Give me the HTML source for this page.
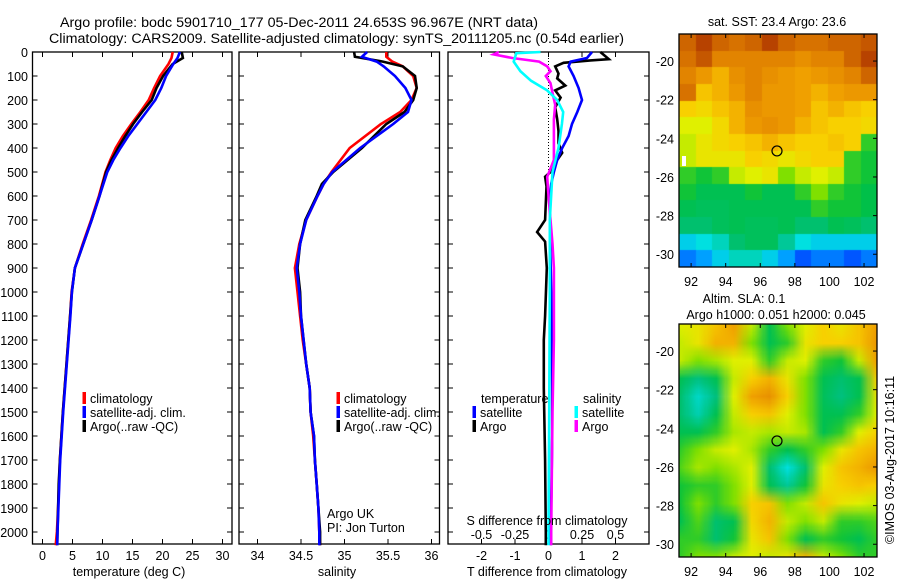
<!DOCTYPE html>
<html><head><meta charset="utf-8">
<style>
html,body{margin:0;padding:0;background:#fff;}
svg{display:block;font-family:"Liberation Sans",sans-serif;}
text{font-size:12.5px;fill:#000;}
</style></head>
<body>
<svg id="fig" width="900" height="580" viewBox="0 0 900 580" xmlns="http://www.w3.org/2000/svg">
<text x="60" y="27" textLength="478" lengthAdjust="spacingAndGlyphs" style="font-size:13.5px">Argo profile: bodc 5901710_177 05-Dec-2011 24.653S 96.967E (NRT data)</text>
<text x="49" y="43" textLength="575" lengthAdjust="spacingAndGlyphs" style="font-size:13.5px">Climatology: CARS2009. Satellite-adjusted climatology: synTS_20111205.nc (0.54d earlier)</text>
<text x="777" y="26" text-anchor="middle">sat. SST: 23.4  Argo: 23.6</text>
<text x="744" y="303" text-anchor="middle">Altim. SLA: 0.1</text>
<text x="776" y="319" text-anchor="middle">Argo h1000: 0.051  h2000: 0.045</text>
<text transform="translate(894,460) rotate(-90)" text-anchor="middle">©IMOS 03-Aug-2017 10:16:11</text>
<g id="layer"></g>
</svg>
<script>
// ---- profile data ----
const tDepth=[0,25,50,100,150,200,250,300,350,400,450,500,600,700,800,900,1000,1100,1200,1300,1400,1500,1600,1700,1800,1900,2000,2055];
const tClim=[21.7,21.5,21.0,19.6,18.6,17.7,16.3,14.8,13.4,12.2,11.3,10.5,9.4,8.1,6.7,5.4,4.85,4.6,4.3,4.0,3.7,3.4,3.15,2.9,2.75,2.6,2.4,2.2];
const tSat=[22.9,22.5,21.8,20.6,19.8,18.8,17.3,15.8,14.3,13.0,11.8,10.8,9.5,8.2,6.8,5.4,4.9,4.65,4.35,4.05,3.75,3.45,3.2,2.95,2.8,2.65,2.5,2.45];
const tArgo=[23.2,23.4,21.7,20.1,19.0,18.2,16.6,15.1,13.8,12.6,11.5,10.6,9.5,8.2,6.8,5.4,4.9,4.6,4.3,4.0,3.7,3.4,3.15,2.9,2.7,2.6,2.5,2.45];
const sDepth=[0,20,40,60,100,150,200,250,300,400,500,550,600,700,800,900,1000,1100,1200,1300,1400,1500,1600,1700,1800,1900,2000,2055];
const sClim=[35.48,35.48,35.55,35.67,35.79,35.83,35.77,35.64,35.42,35.06,34.85,34.76,34.69,34.56,34.48,34.43,34.46,34.49,34.52,34.56,34.6,34.61,34.64,34.66,34.68,34.7,34.71,34.72];
const sSat=[35.26,35.2,35.37,35.45,35.58,35.7,35.77,35.73,35.56,35.18,34.86,34.76,34.69,34.56,34.49,34.45,34.48,34.5,34.53,34.56,34.6,34.61,34.65,34.66,34.68,34.7,34.71,34.71];
const sArgo=[35.11,35.12,35.44,35.67,35.81,35.83,35.79,35.69,35.48,35.2,34.87,34.74,34.68,34.55,34.49,34.46,34.49,34.5,34.53,34.56,34.6,34.61,34.65,34.66,34.68,34.7,34.72,34.72];
const dtSatDepth=[0,25,40,60,100,150,200,250,300,350,400,450,500,550,600,800,1000,1200,1400,1600,1800,2000,2055];
const dtSat=[1.3,1.15,0.66,0.6,0.75,0.9,1.0,0.86,0.7,0.6,0.41,0.26,0.16,0.08,0.05,0.05,0.08,0.1,0.11,0.11,0.09,0.07,0.07];
const dtArgoDepth=[0,30,35,45,60,90,110,140,160,190,230,280,330,380,420,450,500,520,560,700,750,790,900,1100,1200,1400,1700,2000,2055];
const dtArgo=[1.55,1.8,1.25,0.45,0.2,0.3,0.26,0.5,0.2,0.36,0.2,0.26,0.3,0.3,0.41,0.26,0.06,-0.1,-0.06,-0.1,-0.34,-0.1,-0.05,-0.1,-0.14,-0.14,-0.1,-0.08,-0.08];
const dsSatDepth=[0,5,40,80,120,160,200,250,300,400,500,700,1000,1500,2000,2055];
const dsSat=[-0.06,-0.24,-0.26,-0.21,-0.13,-0.01,0.065,0.11,0.1,0.075,0.03,0.01,0.01,0.005,0,0];
const dsArgoDepth=[0,10,25,40,60,80,100,130,170,220,280,350,450,520,600,800,900,1200,1500,2000,2055];
const dsArgo=[-0.37,-0.41,-0.27,-0.07,-0.01,0.015,-0.02,0.015,0.03,0.05,0.04,0.04,0.04,-0.01,0,0.03,0.04,0.04,0.03,0.02,0.02];
const depthTicks=[0,100,200,300,400,500,600,700,800,900,1000,1100,1200,1300,1400,1500,1600,1700,1800,1900,2000];
const tTicks=[0,5,10,15,20,25,30];
const sTicks=[34,34.5,35,35.5,36];
const sTickLabels=["34","34.5","35","35.5","36"];
const dTTicks=[-2,-1,0,1,2];
const dSTicks=[-0.5,-0.25,0,0.25,0.5];
const dSTickLabels=["-0.5","-0.25","0","0.25","0.5"];
// ---- map data (colour index 0..1) ----
const sstLat=[-18.6,-30.66];
const sstLon=[91.3,102.75];
const sstGrid=[
[0.9,0.95,0.9,0.88,0.9,0.95,0.9,0.88,0.88,0.9,0.9,0.92],
[0.88,0.92,0.85,0.85,0.85,0.85,0.85,0.82,0.85,0.85,0.9,0.95],
[0.85,0.8,0.75,0.82,0.85,0.82,0.8,0.78,0.8,0.82,0.85,0.9],
[0.88,0.72,0.75,0.8,0.85,0.8,0.8,0.78,0.75,0.78,0.8,0.8],
[0.7,0.68,0.72,0.75,0.82,0.8,0.8,0.78,0.72,0.75,0.72,0.7],
[0.62,0.62,0.68,0.75,0.8,0.82,0.8,0.75,0.72,0.7,0.7,0.68],
[0.6,0.65,0.68,0.7,0.72,0.75,0.72,0.7,0.7,0.72,0.7,0.5],
[0.6,0.65,0.65,0.65,0.7,0.68,0.65,0.68,0.7,0.7,0.5,0.48],
[0.5,0.48,0.5,0.6,0.62,0.65,0.55,0.6,0.62,0.6,0.5,0.48],
[0.48,0.45,0.45,0.45,0.48,0.45,0.45,0.5,0.55,0.5,0.48,0.46],
[0.45,0.44,0.44,0.45,0.45,0.45,0.45,0.45,0.5,0.48,0.48,0.46],
[0.42,0.42,0.44,0.45,0.44,0.44,0.45,0.42,0.42,0.45,0.44,0.42],
[0.3,0.32,0.35,0.42,0.44,0.44,0.38,0.32,0.3,0.3,0.3,0.3],
[0.2,0.25,0.3,0.35,0.35,0.3,0.25,0.15,0.2,0.2,0.15,0.2]];
const slaGrid=[
[0.62,0.65,0.72,0.78,0.6,0.45,0.55,0.62,0.7,0.65,0.72,0.78],
[0.6,0.65,0.75,0.75,0.55,0.45,0.5,0.65,0.7,0.7,0.72,0.8],
[0.6,0.55,0.58,0.62,0.62,0.5,0.6,0.62,0.5,0.48,0.6,0.78],
[0.45,0.4,0.45,0.6,0.7,0.75,0.65,0.55,0.45,0.42,0.45,0.7],
[0.42,0.34,0.4,0.62,0.78,0.82,0.7,0.55,0.44,0.4,0.45,0.65],
[0.42,0.36,0.45,0.6,0.7,0.72,0.62,0.55,0.45,0.45,0.5,0.62],
[0.45,0.45,0.5,0.58,0.6,0.58,0.6,0.58,0.45,0.5,0.62,0.7],
[0.5,0.55,0.6,0.62,0.58,0.5,0.45,0.5,0.55,0.65,0.72,0.75],
[0.52,0.58,0.55,0.58,0.62,0.42,0.32,0.42,0.62,0.72,0.75,0.8],
[0.48,0.5,0.5,0.55,0.62,0.45,0.38,0.48,0.65,0.7,0.72,0.7],
[0.48,0.55,0.5,0.55,0.7,0.72,0.55,0.6,0.72,0.65,0.62,0.6],
[0.45,0.52,0.42,0.45,0.68,0.75,0.6,0.55,0.6,0.5,0.5,0.52],
[0.5,0.5,0.42,0.48,0.65,0.72,0.55,0.45,0.5,0.48,0.45,0.5],
[0.5,0.55,0.55,0.6,0.62,0.6,0.65,0.75,0.6,0.55,0.5,0.5]];
const argoPos=[96.967,-24.653];
const lonTicks=[92,94,96,98,100,102];
const latTicks=[-20,-22,-24,-26,-28,-30];

const NS="http://www.w3.org/2000/svg";
const layer=document.getElementById('layer');
function mk(tag,attrs,parent){const e=document.createElementNS(NS,tag);for(const k in attrs)e.setAttribute(k,attrs[k]);(parent||layer).appendChild(e);return e;}

const TOP=52, BOT=544, DMIN=0, DMAX=(BOT-TOP)/0.24;
function yD(d){return TOP+(d-DMIN)*(BOT-TOP)/(DMAX-DMIN);}
function linScale(v0,v1,p0,p1){return v=>p0+(v-v0)*(p1-p0)/(v1-v0);}
const panels=[
 {name:'temperature-panel',L:32.5,R:232,x:linScale(0,30,42.5,222.5)},
 {name:'salinity-panel',L:239,R:439.5,x:linScale(34,36,257.5,431.5)},
 {name:'difference-panel',L:448,R:649,x:linScale(-3,3,448,649)}
];
const xS=linScale(-0.75,0.75,448,649);

panels.forEach((p,i)=>{
  const r=mk('rect',{x:p.L,y:TOP,width:p.R-p.L,height:BOT-TOP,fill:'none',stroke:'#000','stroke-width':1.3});
  
  
  depthTicks.forEach(d=>{
    const t1=mk('line',{x1:p.L,x2:p.L+5,y1:yD(d),y2:yD(d),stroke:'#000'});
    
    
    const t2=mk('line',{x1:p.R-5,x2:p.R,y1:yD(d),y2:yD(d),stroke:'#000'});
    
    
  });
});
depthTicks.forEach(d=>{
  const t=mk('text',{x:28,y:yD(d)+5,'text-anchor':'end'});
  t.textContent=String(d);
  
  
});
function xTicks(p,vals,labels,scale,yl,top){
  vals.forEach((v,i)=>{
    const X=scale(v);
    const a=mk('line',{x1:X,x2:X,y1:BOT,y2:BOT-5,stroke:'#000'});
    
    
    if(top){const b=mk('line',{x1:X,x2:X,y1:TOP,y2:TOP+5,stroke:'#000'});
    
    }
    const t=mk('text',{x:X,y:yl,'text-anchor':'middle'});
    t.textContent=labels[i];
    
    
  });
}
xTicks(panels[0],tTicks,tTicks.map(String),panels[0].x,560,true);
xTicks(panels[1],sTicks,sTickLabels,panels[1].x,560,true);
xTicks(panels[2],dTTicks,dTTicks.map(String),panels[2].x,560,true);
dSTicks.forEach((v,i)=>{
  const t=mk('text',{x:xS(v),y:539,'text-anchor':'middle'});
  t.textContent=dSTickLabels[i];
  
  
});
const z=mk('line',{x1:panels[2].x(0),x2:panels[2].x(0),y1:TOP,y2:yD(500),stroke:'#000','stroke-dasharray':'1,2'});



function series(vals,depths,scale,color,name){
  const pts=vals.map((v,i)=>scale(v).toFixed(1)+','+yD(depths[i]).toFixed(1)).join(' ');
  const pl=mk('polyline',{points:pts,fill:'none',stroke:color,'stroke-width':2.6,'stroke-linejoin':'miter'});
  
  
}
series(tClim,tDepth,panels[0].x,'#ff0000','temperature-climatology-line');
series(tArgo,tDepth,panels[0].x,'#000000','temperature-argo-line');
series(tSat,tDepth,panels[0].x,'#0000ff','temperature-satellite-line');
series(sClim,sDepth,panels[1].x,'#ff0000','salinity-climatology-line');
series(sArgo,sDepth,panels[1].x,'#000000','salinity-argo-line');
series(sSat,sDepth,panels[1].x,'#0000ff','salinity-satellite-line');
series(dtArgo,dtArgoDepth,panels[2].x,'#000000','t-diff-argo-line');
series(dtSat,dtSatDepth,panels[2].x,'#0000ff','t-diff-satellite-line');
series(dsArgo,dsArgoDepth,xS,'#ff00ff','s-diff-argo-line');
series(dsSat,dsSatDepth,xS,'#00ffff','s-diff-satellite-line');

function legend(x,y,color,label,name){
  const r=mk('rect',{x:x-1.5,y:y-11,width:3.5,height:12,fill:color});
  
  
  const t=mk('text',{x:x+6,y:y});
  t.textContent=label;
  
  
}
[[84,'temp'],[338,'sal']].forEach(([x,n])=>{
  legend(x,403,'#ff0000','climatology',n+'-legend-climatology');
  legend(x,417,'#0000ff','satellite-adj. clim.',n+'-legend-satellite');
  legend(x,431,'#000000','Argo(..raw -QC)',n+'-legend-argo');
});
legend(474,417,'#0000ff','satellite','diff-legend-t-satellite');
legend(474,431,'#000000','Argo','diff-legend-t-argo');
legend(576,417,'#00ffff','satellite','diff-legend-s-satellite');
legend(576,431,'#ff00ff','Argo','diff-legend-s-argo');
function label(x,y,s,name,anchor){
  const t=mk('text',{x:x,y:y,'text-anchor':anchor||'start'});
  t.textContent=s;
  
  
}
label(481,403,'temperature','diff-legend-temperature-heading');
label(583,403,'salinity','diff-legend-salinity-heading');
label(547,525,'S difference from climatology','s-diff-axis-title','middle');
label(547,576,'T difference from climatology','t-diff-axis-title','middle');
label(129,576,'temperature (deg C)','temperature-axis-title','middle');
label(337,576,'salinity','salinity-axis-title','middle');
label(327,518,'Argo UK','argo-uk-label');
label(327,532,'PI: Jon Turton','pi-label');

// ---- maps ----
const stops=[[0,[0,0,144]],[0.12,[0,64,255]],[0.25,[0,160,255]],[0.32,[0,224,224]],[0.4,[0,192,128]],[0.47,[0,192,64]],[0.55,[128,224,0]],[0.62,[224,240,0]],[0.7,[248,208,0]],[0.78,[240,160,0]],[0.86,[224,128,0]],[0.93,[192,80,0]],[1,[160,32,0]]];
function cmap(v){
  for(let i=1;i<stops.length;i++){if(v<=stops[i][0]){const a=stops[i-1],b=stops[i];const f=(v-a[0])/(b[0]-a[0]);return a[1].map((c,k)=>Math.round(c+(b[1][k]-c)*f));}}
  return stops[stops.length-1][1];
}
function drawMap(grid,top,bot,smooth,name){
  const L=679,R=877;
  const nr=grid.length,nc=grid[0].length;
  const c=document.createElement('canvas');c.width=nc;c.height=nr;
  const ctx=c.getContext('2d');const im=ctx.createImageData(nc,nr);
  grid.forEach((row,r)=>row.forEach((v,k)=>{const col=cmap(v);const o=(r*nc+k)*4;im.data[o]=col[0];im.data[o+1]=col[1];im.data[o+2]=col[2];im.data[o+3]=255;}));
  ctx.putImageData(im,0,0);
  const big=document.createElement('canvas');big.width=R-L;big.height=bot-top;
  const bctx=big.getContext('2d');bctx.imageSmoothingEnabled=smooth;
  if(smooth){bctx.drawImage(c,-0.5*(R-L)/nc,-0.5*(bot-top)/nr,(R-L)*(nc+1)/nc,(bot-top)*(nr+1)/nr);}else{bctx.drawImage(c,0,0,R-L,bot-top);}
  const g=mk('g',{});
  
  
  const fo=mk('foreignObject',{x:L,y:top,width:R-L,height:bot-top},g);
  big.style.display='block';
  fo.appendChild(big);
  const fr=mk('rect',{x:L,y:top,width:R-L,height:bot-top,fill:'none',stroke:'#000','stroke-width':1.3},g);
  
  
  const lx=linScale(sstLon[0],sstLon[1],L,R), ly=linScale(sstLat[0],sstLat[1],top,bot);
  lonTicks.forEach(v=>{
    const a=mk('line',{x1:lx(v),x2:lx(v),y1:top,y2:top+4,stroke:'#000'},g);
    
    
    const b=mk('line',{x1:lx(v),x2:lx(v),y1:bot,y2:bot-4,stroke:'#000'},g);
    
    
    const t=mk('text',{x:lx(v),y:bot+19,'text-anchor':'middle'},g);
    t.textContent=String(v);
    
    
  });
  latTicks.forEach(v=>{
    const a=mk('line',{x1:R,x2:R-4,y1:ly(v),y2:ly(v),stroke:'#000'},g);
    
    
    const t=mk('text',{x:674,y:ly(v)+5,'text-anchor':'end'},g);
    t.textContent=String(v);
    
    
  });
  const ci=mk('circle',{cx:lx(argoPos[0]),cy:ly(argoPos[1]),r:5,fill:'none',stroke:'#000','stroke-width':1.2},g);
  
  
  return g;
}
const g1=drawMap(sstGrid,34,267,false,'sst-map');
const wr=mk('rect',{x:682,y:156,width:4,height:10,fill:'#fff'},g1);


drawMap(slaGrid,324,557,true,'sla-map');
</script>
</body></html>
